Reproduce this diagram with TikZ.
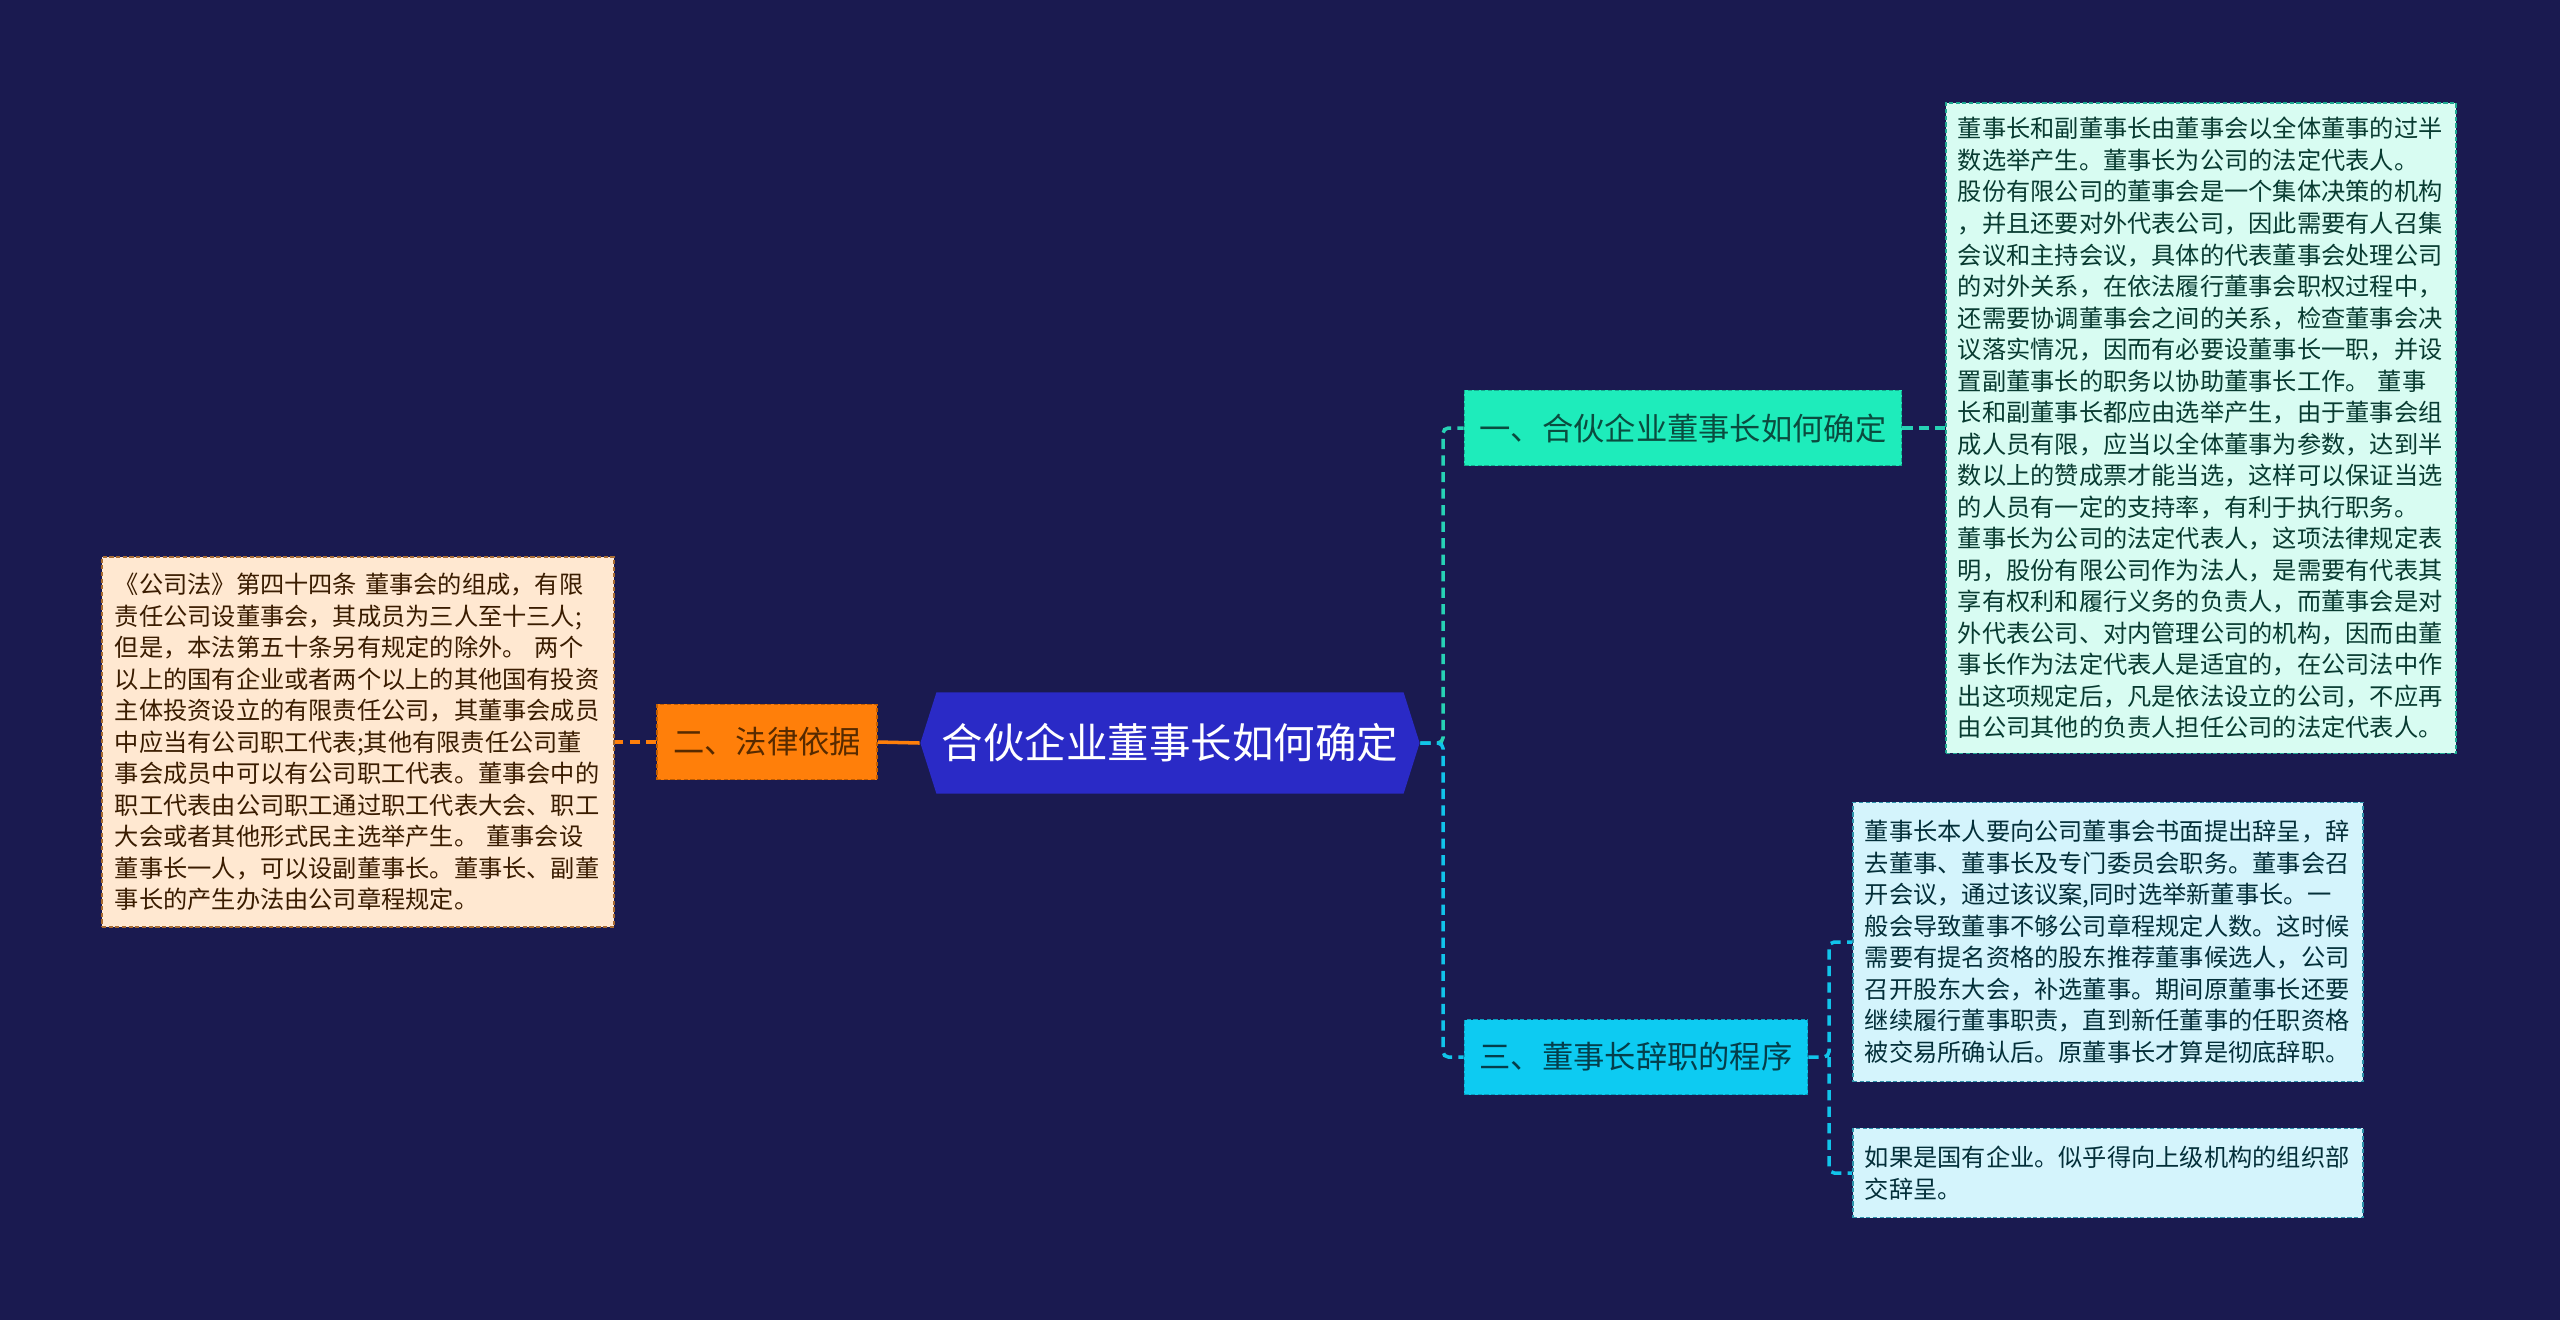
\documentclass[tikz,border=0pt]{standalone}
\usepackage{fontspec}
\setmainfont{Noto Sans CJK SC}
\definecolor{bg}{HTML}{1A1A50}
\definecolor{rootblue}{HTML}{2A2AC6}
\definecolor{mint}{HTML}{1EECBB}
\definecolor{mintline}{HTML}{27D2B5}
\definecolor{mintdark}{HTML}{16A98C}
\definecolor{mintnote}{HTML}{D8FCF2}
\definecolor{sky}{HTML}{0DCBF2}
\definecolor{skyline}{HTML}{11C4EA}
\definecolor{skydark}{HTML}{0A9CBD}
\definecolor{skynote}{HTML}{D4F4FC}
\definecolor{tang}{HTML}{FF7F0A}
\definecolor{tangdark}{HTML}{C25E00}
\definecolor{tangnote}{HTML}{FFE8D1}

\begin{document}
\begin{tikzpicture}[x=0.01cm, y=-0.01cm,
  box/.style={draw, line width=0.4pt, dash pattern=on 1.2pt off 0.7pt, inner sep=0pt},
  root/.style={fill=bg, text=white, minimum width=4.99cm, minimum height=1.01cm,
    inner sep=0pt, font=\fontsize{11.8}{14}\selectfont,
    path picture={\fill[rootblue] (path picture bounding box.west)
      -- ([xshift=0.16cm]path picture bounding box.north west)
      -- ([xshift=-0.16cm]path picture bounding box.north east)
      -- (path picture bounding box.east)
      -- ([xshift=-0.16cm]path picture bounding box.south east)
      -- ([xshift=0.16cm]path picture bounding box.south west) -- cycle;}},
  topic/.style={box, minimum height=0.75cm, font=\fontsize{8.9}{10}\selectfont},
  note/.style={box, align=left, text width=4.86cm, inner xsep=0.12cm,
    font=\fontsize{6.89}{8.96}\selectfont},
  link/.style={line width=1pt, dash pattern=on 2.9pt off 1.8pt, rounded corners=1.5pt}
]
\fill[bg] (0,0) rectangle (2560,1320);
\useasboundingbox (0,0) rectangle (2560,1320);

% centre and first level
\node[root] (root) at (1170,743) {合伙企业董事长如何确定};
\node[topic, fill=mint, draw=mintdark, text=mintdark!45!black, minimum width=4.37cm] (dsz) at (1683,428) {一、合伙企业董事长如何确定};
\node[topic, fill=tang, draw=tangdark, text=tangdark!45!black, minimum width=2.2cm] (law) at (767,742) {二、法律依据};
\node[topic, fill=sky, draw=skydark, text=skydark!40!black, minimum width=3.43cm] (quit) at (1636,1057) {三、董事长辞职的程序};

% notes
\node[note, fill=mintnote, draw=mintline!80!black, text=mintdark!35!black, minimum height=6.5cm] (n1) at (2201,428) {董事长和副董事长由董事会以全体董事的过半\\数选举产生。董事长为公司的法定代表人。\\股份有限公司的董事会是一个集体决策的机构\\，并且还要对外代表公司，因此需要有人召集\\会议和主持会议，具体的代表董事会处理公司\\的对外关系，在依法履行董事会职权过程中，\\还需要协调董事会之间的关系，检查董事会决\\议落实情况，因而有必要设董事长一职，并设\\置副董事长的职务以协助董事长工作。 董事\\长和副董事长都应由选举产生，由于董事会组\\成人员有限，应当以全体董事为参数，达到半\\数以上的赞成票才能当选，这样可以保证当选\\的人员有一定的支持率，有利于执行职务。\\董事长为公司的法定代表人，这项法律规定表\\明，股份有限公司作为法人，是需要有代表其\\享有权利和履行义务的负责人，而董事会是对\\外代表公司、对内管理公司的机构，因而由董\\事长作为法定代表人是适宜的，在公司法中作\\出这项规定后，凡是依法设立的公司，不应再\\由公司其他的负责人担任公司的法定代表人。};
\node[note, fill=tangnote, draw=tangdark!60!gray, text=tangdark!30!black, inner xsep=0.13cm, minimum height=3.7cm] (n2) at (358,742) {《公司法》第四十四条 董事会的组成，有限\\责任公司设董事会，其成员为三人至十三人;\\但是，本法第五十条另有规定的除外。 两个\\以上的国有企业或者两个以上的其他国有投资\\主体投资设立的有限责任公司，其董事会成员\\中应当有公司职工代表;其他有限责任公司董\\事会成员中可以有公司职工代表。董事会中的\\职工代表由公司职工通过职工代表大会、职工\\大会或者其他形式民主选举产生。 董事会设\\董事长一人，可以设副董事长。董事长、副董\\事长的产生办法由公司章程规定。};
\node[note, fill=skynote, draw=skydark!70!gray, text=skydark!30!black, minimum height=2.79cm] (n3) at (2108,942) {董事长本人要向公司董事会书面提出辞呈，辞\\去董事、董事长及专门委员会职务。董事会召\\开会议，通过该议案,同时选举新董事长。一\\般会导致董事不够公司章程规定人数。这时候\\需要有提名资格的股东推荐董事候选人，公司\\召开股东大会，补选董事。期间原董事长还要\\继续履行董事职责，直到新任董事的任职资格\\被交易所确认后。原董事长才算是彻底辞职。};
\node[note, fill=skynote, draw=skydark!70!gray, text=skydark!30!black, minimum height=0.89cm] (n4) at (2108,1173) {如果是国有企业。似乎得向上级机构的组织部\\交辞呈。};

% connectors
\coordinate (j1) at (1443,743);
\coordinate (j3) at (1829,1057);
\draw[tang, line width=1pt] (root.west) -- (law.east);
\draw[tang, link] (law.west) -- (n2.east);
\draw[mintline, link] (root.east) -- (j1) |- (dsz.west);
\draw[mintline, link] (dsz.east) -- (n1.west);
\draw[skyline, link] (root.east) -- (j1) |- (quit.west);
\draw[skyline, link] (quit.east) -- (j3) |- (n3.west);
\draw[skyline, link] (j3) |- (n4.west);
\end{tikzpicture}
\end{document}
